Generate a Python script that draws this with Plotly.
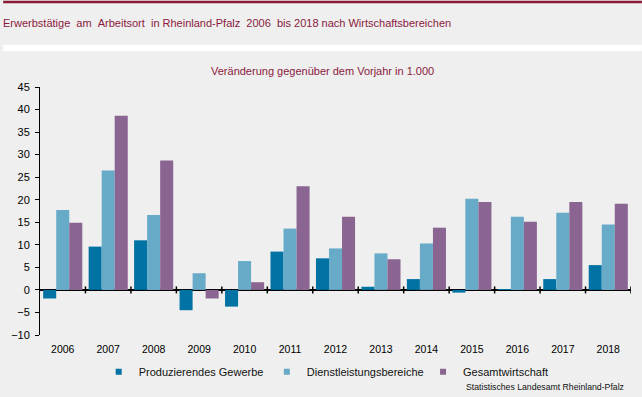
import plotly.graph_objects as go

years = [2006, 2007, 2008, 2009, 2010, 2011, 2012, 2013, 2014, 2015, 2016, 2017, 2018]
produzierendes = [-1.9, 9.6, 11.0, -4.5, -3.7, 8.5, 7.0, 0.7, 2.4, -0.6, 0.2, 2.4, 5.5]
dienstleistung = [17.7, 26.5, 16.6, 3.7, 6.4, 13.6, 9.2, 8.1, 10.3, 20.2, 16.2, 17.1, 14.5]
gesamt = [14.9, 38.6, 28.7, -1.9, 1.7, 23.0, 16.2, 6.8, 13.8, 19.5, 15.1, 19.5, 19.1]
series_names = ["Produzierendes Gewerbe", "Dienstleistungsbereiche", "Gesamtwirtschaft"]
colors = ["#0072A3", "#67ABC9", "#8A6591"]
y_ticks = list(range(-10, 50, 5))

W, H = 642, 397
ML, MR, MT, MB = 37, 11, 87, 60
PW, PH = W - ML - MR, H - MT - MB
BG = "#EEEFEE"
FONT = "Arial, Liberation Sans, sans-serif"


def px_x(px):
    return (px - ML) / PW


def px_y(py):
    return (H - MB - py) / PH


fig = go.Figure()
for vals, name, col in zip([produzierendes, dienstleistung, gesamt], series_names, colors):
    fig.add_trace(go.Bar(x=years, y=vals, name=name, marker_color=col,
                         marker_line_width=0, showlegend=False))

legend_ids = ["legend", "legend2", "legend3"]
for name, col, lid in zip(series_names, colors, legend_ids):
    fig.add_trace(go.Scatter(x=[None], y=[None], mode="markers", name=name,
                             marker=dict(symbol="square", size=6, color=col),
                             legend=lid, showlegend=True))

shapes = [
    dict(type="rect", xref="paper", yref="paper", x0=px_x(0), x1=px_x(W),
         y0=px_y(2.5), y1=px_y(0), fillcolor="#8A1A35", line_width=0, layer="below"),
    dict(type="rect", xref="paper", yref="paper", x0=px_x(0), x1=px_x(W),
         y0=px_y(50.7), y1=px_y(44.3), fillcolor="#FFFFFF", line_width=0, layer="below"),
]
boundaries = [y - 0.5 for y in years] + [years[-1] + 0.5]
for b in boundaries[1:]:
    shapes.append(dict(type="line", xref="x", yref="y", ysizemode="pixel", yanchor=0,
                       x0=b, x1=b, y0=-3.5, y1=3.5, line=dict(color="black", width=1.5)))

legend_text_x = [138, 307, 464]
legend_common = dict(orientation="h", xanchor="left", yanchor="middle", y=px_y(374),
                     bgcolor="rgba(0,0,0,0)", borderwidth=0,
                     font=dict(family=FONT, size=11, color="#111111"))

layout_legends = {}
for lid, tx in zip(legend_ids, legend_text_x):
    layout_legends[lid] = dict(legend_common, x=px_x(tx - 42))

fig.update_layout(
    width=W, height=H,
    margin=dict(l=ML, r=MR, t=MT, b=MB, pad=0),
    paper_bgcolor=BG, plot_bgcolor=BG,
    barmode="group", bargap=0.14, bargroupgap=0,
    font=dict(family=FONT, size=11, color="#111111"),
    title=dict(text="Erwerbstätige \u00a0am \u00a0Arbeitsort \u00a0in Rheinland-Pfalz \u00a02006 \u00a0bis 2018 nach Wirtschaftsbereichen",
               xref="container", yref="container", x=3 / W, xanchor="left",
               y=1 - 23.5 / H, yanchor="middle",
               font=dict(family=FONT, size=11, color="#8B1A3E")),
    xaxis=dict(range=[years[0] - 0.5, years[-1] + 0.5], tickvals=years,
               ticktext=[str(y) for y in years], showgrid=False, zeroline=False,
               showline=False, ticks="", ticklabelstandoff=6,
               tickfont=dict(family=FONT, size=10.5, color="#000000")),
    yaxis=dict(range=[-10, 45], tickvals=y_ticks, showgrid=False,
               zeroline=True, zerolinecolor="black", zerolinewidth=2,
               showline=True, linecolor="black", linewidth=1,
               ticks="outside", ticklen=4, tickcolor="black", tickwidth=1,
               ticklabelstandoff=3,
               tickfont=dict(family=FONT, size=11, color="#000000")),
    shapes=shapes,
    annotations=[
        dict(text="Veränderung gegenüber dem Vorjahr in 1.000", xref="paper", yref="paper",
             x=px_x(W / 2), y=px_y(71), xanchor="center", yanchor="middle", showarrow=False,
             font=dict(family=FONT, size=11, color="#8B1A3E")),
        dict(text="Statistisches Landesamt Rheinland-Pfalz", xref="paper", yref="paper",
             x=px_x(463), y=px_y(389.5), xanchor="left", yanchor="middle", showarrow=False,
             font=dict(family=FONT, size=8.7, color="#111111")),
    ],
    **layout_legends,
)

fig.write_html("out.html", config={"displayModeBar": False},
               post_script="document.body.style.margin='0';document.body.style.overflow='hidden';")
